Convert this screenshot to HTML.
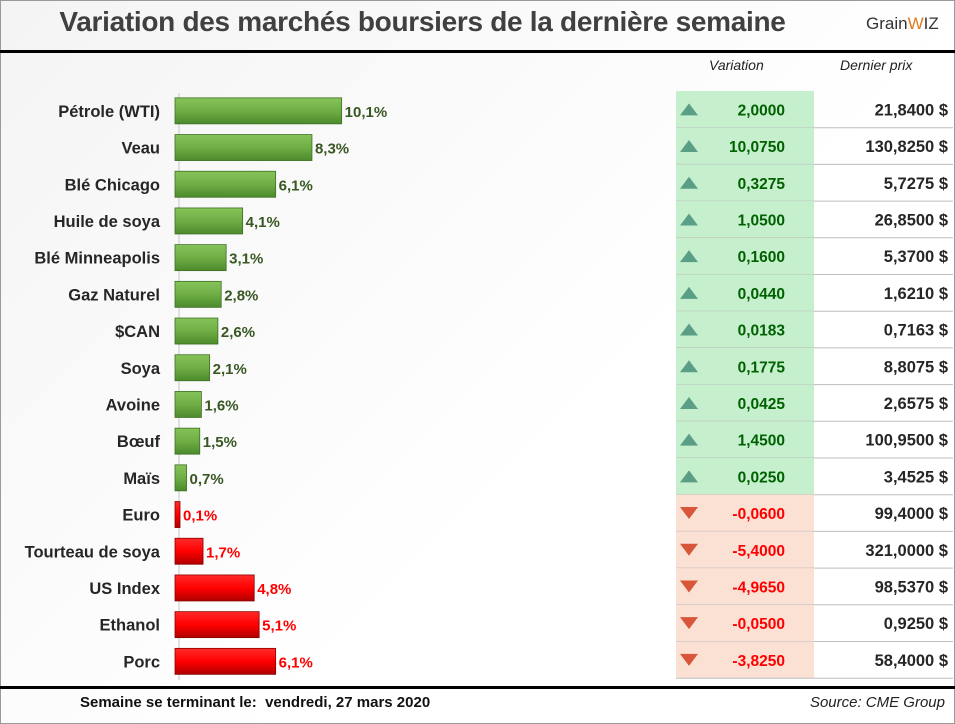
<!DOCTYPE html>
<html><head><meta charset="utf-8">
<style>
body{margin:0;width:955px;height:724px;overflow:hidden;background:#fff;font-family:"Liberation Sans",sans-serif;}
#frame{position:absolute;left:0;top:0;width:953px;height:722px;border:1px solid #9a9a9a;background:linear-gradient(135deg,#f4f4f4 0%,#fff 60%);}
#title{position:absolute;left:0;top:6px;width:845px;text-align:center;font-size:28px;font-weight:bold;color:#404040;letter-spacing:-0.3px;}
#logo{position:absolute;left:866px;top:14px;font-size:17px;color:#333;}
#logo b{color:#e07b1a;font-weight:normal;}
.hline{position:absolute;left:0;width:955px;background:#000;}
.hd{position:absolute;top:57px;font-size:14px;font-style:italic;color:#222;}
#foot1{position:absolute;left:80px;top:694px;font-size:15px;font-weight:bold;color:#111;}
#foot2{position:absolute;right:10px;top:694px;font-size:15px;font-style:italic;color:#222;}
</style></head><body>
<div id="frame"></div>
<div id="title">Variation des marchés boursiers de la dernière semaine</div>
<div id="logo">Grain<b>W</b>IZ</div>
<div class="hline" style="top:50px;height:3px"></div>
<div class="hline" style="top:686px;height:3px"></div>
<div class="hd" style="left:709px">Variation</div>
<div class="hd" style="left:840px">Dernier prix</div>
<svg id="chart" width="955" height="724" style="position:absolute;left:0;top:0">
<defs>
<linearGradient id="gG" x1="0" y1="0" x2="0" y2="1"><stop offset="0" stop-color="#86c45a"/><stop offset="0.5" stop-color="#6fae45"/><stop offset="1" stop-color="#4c8a2c"/></linearGradient>
<linearGradient id="gR" x1="0" y1="0" x2="0" y2="1"><stop offset="0" stop-color="#ff2a2a"/><stop offset="0.5" stop-color="#f00"/><stop offset="1" stop-color="#b00000"/></linearGradient>
</defs>
</svg>
<div id="foot1">Semaine se terminant le:&nbsp; vendredi, 27 mars 2020</div>
<div id="foot2">Source: CME Group</div>
<script>
const categories=["Pétrole (WTI)","Veau","Blé Chicago","Huile de soya","Blé Minneapolis","Gaz Naturel","$CAN","Soya","Avoine","Bœuf","Maïs","Euro","Tourteau de soya","US Index","Ethanol","Porc"];
const pctValues=[10.1,8.3,6.1,4.1,3.1,2.8,2.6,2.1,1.6,1.5,0.7,-0.1,-1.7,-4.8,-5.1,-6.1];
const variations=["2,0000","10,0750","0,3275","1,0500","0,1600","0,0440","0,0183","0,1775","0,0425","1,4500","0,0250","-0,0600","-5,4000","-4,9650","-0,0500","-3,8250"];
const prices=["21,8400 $","130,8250 $","5,7275 $","26,8500 $","5,3700 $","1,6210 $","0,7163 $","8,8075 $","2,6575 $","100,9500 $","3,4525 $","99,4000 $","321,0000 $","98,5370 $","0,9250 $","58,4000 $"];
const NS="http://www.w3.org/2000/svg";
const svg=document.getElementById('chart');
const x0=175, pxPer=16.5, rowTop=91, rowH=36.7, barH=26;
const xs=v=>Math.abs(v)*pxPer;
const yc=i=>rowTop+rowH*i+rowH/2;
function mk(t,a){const e=document.createElementNS(NS,t);for(const k in a)e.setAttribute(k,a[k]);svg.appendChild(e);return e;}
const axis=mk('line',{x1:x0+4,x2:x0+4,y1:93,y2:680,stroke:'#d8d8d8','stroke-width':1.5});


categories.forEach((c,i)=>{
  const v=pctValues[i],pos=v>=0,w=Math.max(xs(v),5),y=yc(i)+1.5;
  const lab=mk('text',{x:160,y:y+6,'text-anchor':'end','font-size':16.5,'font-weight':'bold',fill:'#262626'});
  lab.textContent=c;
  
  
  const r=mk('rect',{x:x0,y:y-barH/2,width:w,height:barH,fill:pos?'url(#gG)':'url(#gR)',stroke:pos?'#3d6f22':'#8a0000','stroke-width':0.8});
  
  
  const vl=mk('text',{x:x0+w+3,y:y+6,'font-size':15,'font-weight':'bold',fill:pos?'#385723':'#ff0000'});
  vl.textContent=Math.abs(v).toFixed(1).replace('.',',')+'%';
  
  
  const top=rowTop+rowH*i;
  const bg=mk('rect',{x:676,y:top,width:138,height:rowH,fill:pos?'#c6efce':'#fbe0d4'});
  
  
  const ln=mk('line',{x1:676,x2:953,y1:top+rowH,y2:top+rowH,stroke:'#bdbdbd','stroke-width':1});
  
  
  const yy=yc(i);
  const ic=mk('polygon',{points:pos?`680,${yy+6} 698,${yy+6} 689,${yy-6}`:`680,${yy-6} 698,${yy-6} 689,${yy+6}`,fill:pos?'#5a9e86':'#d8573a'});
  
  
  const vt=mk('text',{x:785,y:yy+6,'text-anchor':'end','font-size':15.5,'font-weight':'bold',fill:pos?'#006100':'#ff0000'});
  vt.textContent=variations[i];
  
  
  const pt=mk('text',{x:948,y:yy+6,'text-anchor':'end','font-size':16.5,'font-weight':'bold',fill:'#262626'});
  pt.textContent=prices[i];
  
  
});
</script>
</body></html>
